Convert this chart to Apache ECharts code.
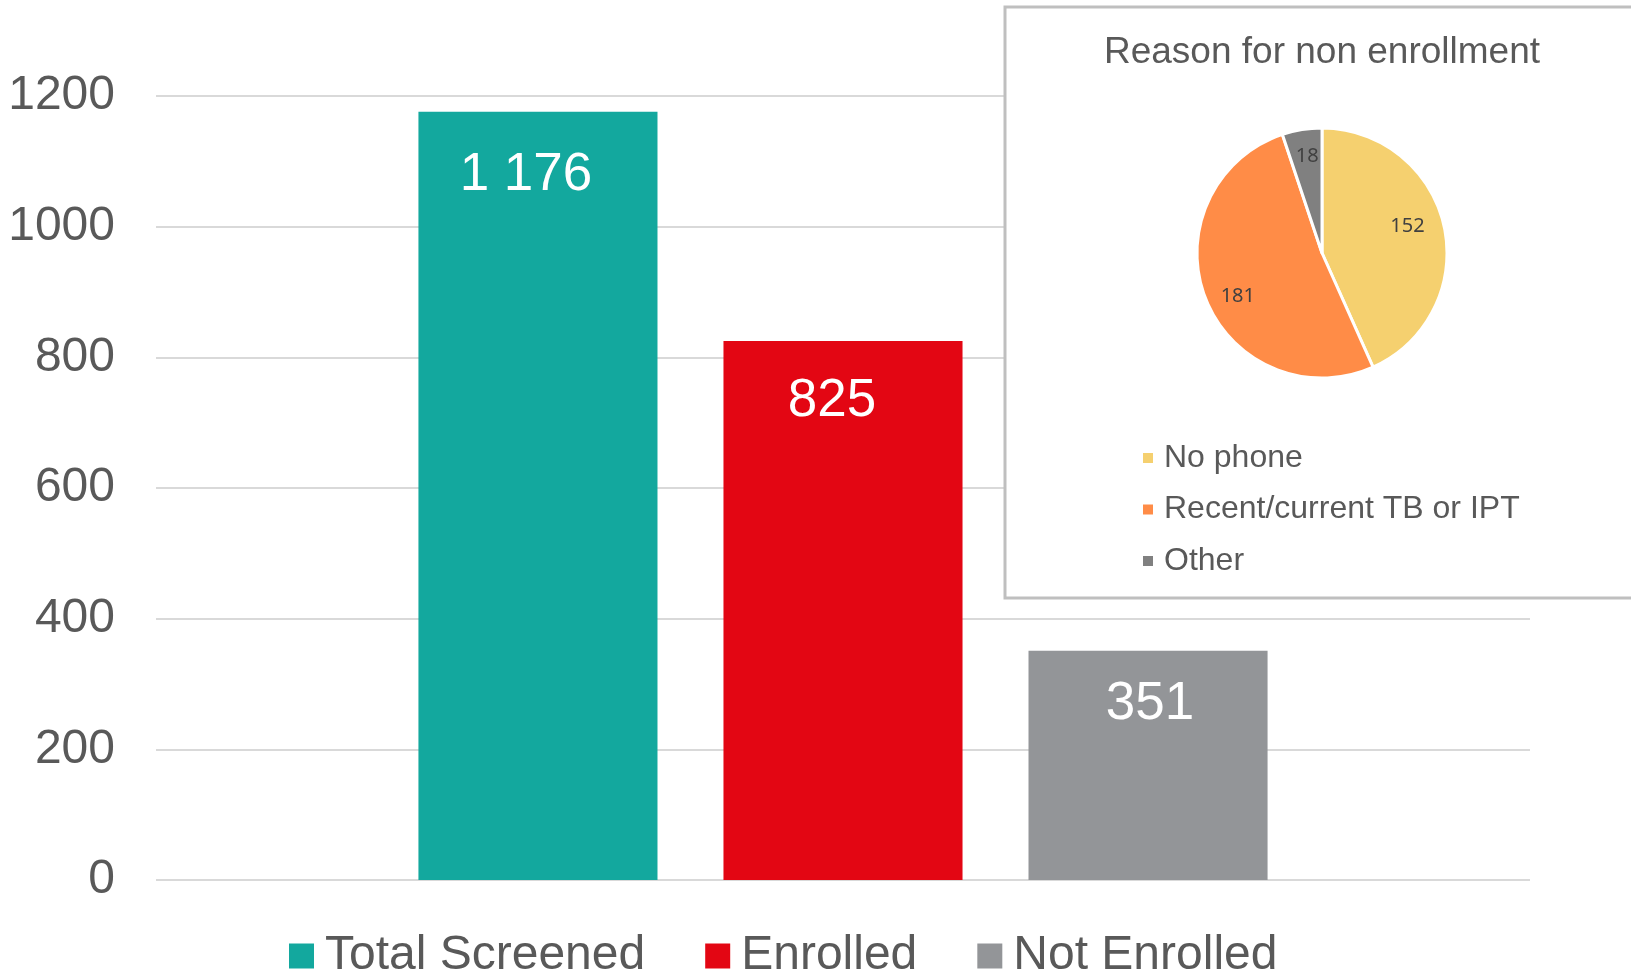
<!DOCTYPE html>
<html>
<head>
<meta charset="utf-8">
<script src="https://cdn.jsdelivr.net/npm/echarts@6/dist/echarts.min.js"></script>
<style>html,body{margin:0;padding:0;background:#fff;}#c{width:1631px;height:974px;}</style>
</head>
<body>
<div id="c"></div>
<script>
// Main bar chart data
const barSeriesNames = ['Total Screened', 'Enrolled', 'Not Enrolled'];
const barValues = [1176, 825, 351];
const barColors = ['#13A89E', '#E30613', '#939598'];
const yTicks = [0, 200, 400, 600, 800, 1000, 1200];

// Inset pie data
const pieTitle = 'Reason for non enrollment';
const pieNames = ['No phone', 'Recent/current TB or IPT', 'Other'];
const pieValues = [152, 181, 18];
const pieColors = ['#F5D06F', '#FF8C47', '#808080'];

const chart = echarts.init(document.getElementById('c'));
const font = 'Liberation Sans, Arial, sans-serif';

function fmt(v) {
  return String(v).replace(/\B(?=(\d{3})+(?!\d))/g, ' ');
}

// label placement styling (pixel nudges, not data)
const barLabelNudge = [[-12, 5], [-11, 2], [2, -5]];
const pieLabelNudge = [[-5, -7], [2, 10], [0, -5]];

const pieCx = 1322, pieCy = 253, pieR = 125;
const pieTotal = pieValues.reduce((a, b) => a + b, 0);
function midAngle(i) {
  let before = 0;
  for (let k = 0; k < i; k++) before += pieValues[k];
  return (before + pieValues[i] / 2) / pieTotal * 2 * Math.PI;
}

const series = barSeriesNames.map((n, i) => ({
  name: n,
  type: 'bar',
  data: [barValues[i]],
  itemStyle: { color: barColors[i] },
  barGap: '27.6%',
  barCategoryGap: '38.2%',
  label: {
    show: true,
    position: 'insideTop',
    distance: 32,
    offset: barLabelNudge[i],
    color: '#fff',
    fontFamily: font,
    fontSize: 53,
    lineHeight: 53,
    formatter: p => fmt(p.value)
  }
}));

series.push({
  name: 'pie',
  type: 'pie',
  z: 10,
  center: [pieCx, pieCy],
  radius: [0, pieR],
  startAngle: 90,
  clockwise: true,
  data: pieNames.map((n, i) => ({ name: n, value: pieValues[i], itemStyle: { color: pieColors[i] } })),
  itemStyle: { borderColor: '#fff', borderWidth: 3 },
  label: {
    show: true,
    position: 'inside',
    color: '#404040',
    fontFamily: 'Noto Sans, sans-serif',
    fontSize: 20,
    formatter: '{c}'
  },
  labelLayout: function (p) {
    const a = midAngle(p.dataIndex);
    const rr = pieR * 0.74;
    const nd = pieLabelNudge[p.dataIndex];
    return { x: pieCx + rr * Math.sin(a) + nd[0], y: pieCy - rr * Math.cos(a) + nd[1], align: 'center', verticalAlign: 'middle' };
  },
  emphasis: { disabled: true }
});

chart.setOption({
  animation: false,
  backgroundColor: '#fff',
  title: {
    text: pieTitle,
    left: pieCx,
    textAlign: 'center',
    top: 34,
    padding: 0,
    z: 10,
    textStyle: { fontFamily: font, fontSize: 37, fontWeight: 'normal', color: '#595959' }
  },
  graphic: [{
    type: 'rect',
    z: 3,
    shape: { x: 1005, y: 7, width: 700, height: 591 },
    style: { fill: '#fff', stroke: '#BFBFBF', lineWidth: 3 }
  }],
  grid: { left: 156, right: 101, top: 96, bottom: 94, containLabel: false },
  xAxis: {
    type: 'category',
    data: [''],
    axisLine: { show: false },
    axisTick: { show: false },
    axisLabel: { show: false }
  },
  yAxis: {
    type: 'value',
    min: yTicks[0],
    max: yTicks[yTicks.length - 1],
    interval: 200,
    axisLine: { show: false },
    axisTick: { show: false },
    axisLabel: { color: '#595959', fontFamily: font, fontSize: 48, margin: 41, formatter: v => String(v) },
    splitLine: { lineStyle: { color: '#D9D9D9', width: 2 } }
  },
  legend: [{
    data: barSeriesNames,
    left: 289,
    top: 932,
    padding: 0,
    itemWidth: 25,
    itemHeight: 25,
    itemGap: 60,
    icon: 'rect',
    textStyle: { fontFamily: font, fontSize: 48, lineHeight: 48, color: '#595959', padding: [0, 0, 0, 6] },
    selectedMode: false
  }, {
    data: pieNames,
    orient: 'vertical',
    left: 1141,
    top: 442,
    padding: 0,
    z: 10,
    itemWidth: 12,
    itemHeight: 12,
    itemGap: 19.5,
    icon: 'rect',
    textStyle: { fontFamily: font, fontSize: 32, lineHeight: 30, color: '#595959', padding: [0, 0, 0, 5] },
    selectedMode: false
  }],
  series: series
});
</script>
</body>
</html>
